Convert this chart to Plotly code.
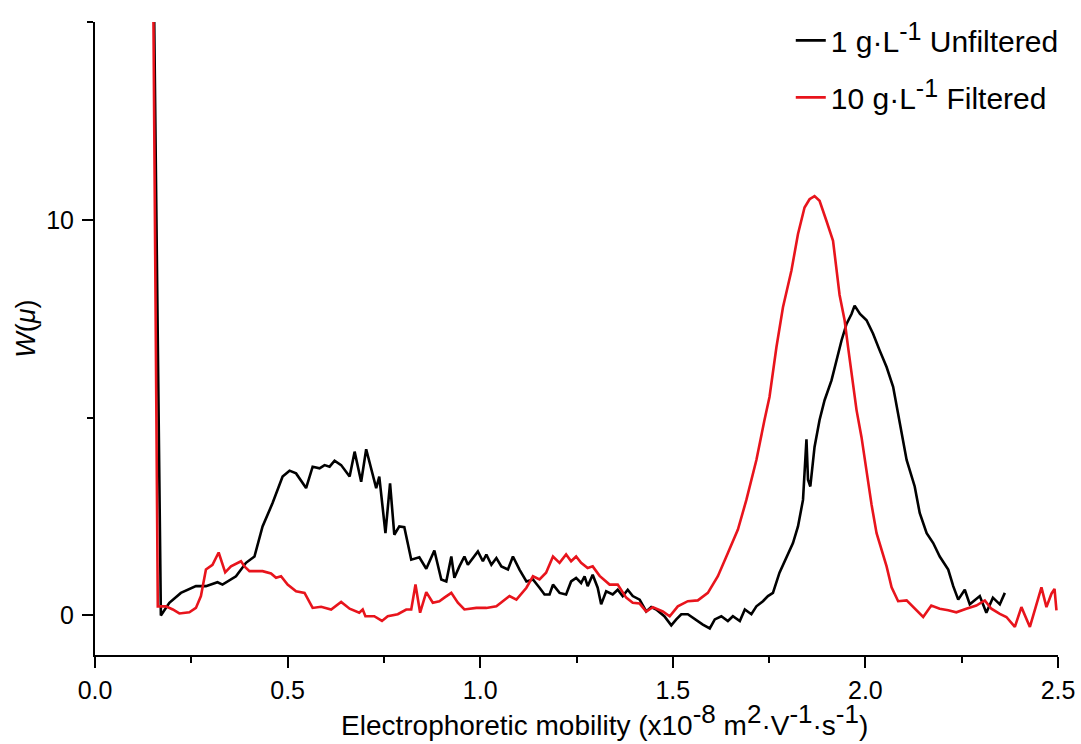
import plotly.graph_objects as go

# ---- data ----
black_x = [0.148, 0.171, 0.193, 0.223, 0.262, 0.288, 0.318, 0.331, 0.366, 0.392,
           0.414, 0.435, 0.461, 0.487, 0.505, 0.522, 0.548, 0.565, 0.583, 0.596,
           0.609, 0.622, 0.639, 0.661, 0.674, 0.691, 0.704, 0.717, 0.730, 0.738,
           0.754, 0.766, 0.777, 0.790, 0.803, 0.821, 0.842, 0.860, 0.881, 0.899,
           0.912, 0.925, 0.933, 0.946, 0.959, 0.968, 0.981, 0.994, 1.007, 1.016,
           1.029, 1.042, 1.055, 1.072, 1.085, 1.102, 1.120, 1.137, 1.154, 1.167,
           1.180, 1.189, 1.206, 1.223, 1.236, 1.249, 1.262, 1.271, 1.279, 1.292,
           1.305, 1.314, 1.327, 1.344, 1.357, 1.370, 1.383, 1.396, 1.414, 1.431,
           1.444, 1.457, 1.478, 1.496, 1.509, 1.522, 1.539, 1.557, 1.578, 1.596,
           1.609, 1.626, 1.643, 1.656, 1.674, 1.687, 1.704, 1.717, 1.734, 1.747,
           1.760, 1.777, 1.795, 1.812, 1.825, 1.838, 1.847, 1.851, 1.857, 1.868,
           1.881, 1.894, 1.912, 1.925, 1.938, 1.951, 1.964, 1.972, 1.986, 2.003,
           2.020, 2.037, 2.055, 2.072, 2.085, 2.107, 2.128, 2.141, 2.159, 2.176,
           2.193, 2.215, 2.228, 2.241, 2.258, 2.271, 2.297, 2.314, 2.331, 2.349,
           2.362]
black_y = [20.0, 0.00, 0.32, 0.57, 0.74, 0.74, 0.84, 0.78, 0.99, 1.33,
           1.49, 2.25, 2.84, 3.51, 3.66, 3.59, 3.22, 3.76, 3.72, 3.80,
           3.76, 3.91, 3.80, 3.51, 4.14, 3.38, 4.20, 3.68, 3.22, 3.51,
           2.08, 3.34, 2.04, 2.25, 2.23, 1.41, 1.47, 1.18, 1.64, 0.91,
           0.86, 1.49, 0.95, 1.24, 1.49, 1.28, 1.45, 1.62, 1.37, 1.54,
           1.28, 1.45, 1.24, 1.16, 1.49, 1.16, 0.86, 0.91, 0.70, 0.53,
           0.53, 0.78, 0.57, 0.53, 0.86, 0.95, 0.82, 0.99, 0.74, 1.03,
           0.70, 0.28, 0.61, 0.53, 0.65, 0.49, 0.65, 0.49, 0.40, 0.10,
           0.21, 0.15, -0.02, -0.25, -0.10, 0.03, 0.03, -0.10, -0.23, -0.33,
           -0.10, -0.02, -0.14, -0.02, -0.14, 0.15, 0.03, 0.23, 0.36, 0.49,
           0.57, 1.08, 1.49, 1.83, 2.25, 2.92, 4.45, 3.43, 3.26, 4.26,
           4.94, 5.44, 5.94, 6.45, 6.95, 7.37, 7.62, 7.83, 7.62, 7.46,
           7.12, 6.70, 6.28, 5.78, 5.11, 3.93, 3.26, 2.59, 2.08, 1.83,
           1.49, 1.16, 0.74, 0.40, 0.65, 0.28, 0.49, 0.07, 0.45, 0.28,
           0.57]

red_x = [0.148, 0.163, 0.184, 0.202, 0.219, 0.245, 0.262, 0.275, 0.288, 0.305,
         0.321, 0.327, 0.338, 0.353, 0.379, 0.388, 0.401, 0.435, 0.457, 0.470,
         0.483, 0.500, 0.522, 0.544, 0.565, 0.587, 0.613, 0.639, 0.661, 0.686,
         0.695, 0.702, 0.725, 0.745, 0.760, 0.786, 0.808, 0.821, 0.832, 0.844,
         0.860, 0.877, 0.894, 0.907, 0.925, 0.942, 0.959, 0.990, 1.016, 1.042,
         1.076, 1.094, 1.120, 1.137, 1.154, 1.171, 1.189, 1.206, 1.223, 1.236,
         1.249, 1.262, 1.279, 1.292, 1.310, 1.336, 1.357, 1.379, 1.396, 1.414,
         1.431, 1.448, 1.474, 1.492, 1.513, 1.539, 1.565, 1.591, 1.617, 1.643,
         1.669, 1.691, 1.717, 1.738, 1.751, 1.769, 1.786, 1.808, 1.825, 1.842,
         1.855, 1.868, 1.881, 1.899, 1.916, 1.933, 1.946, 1.955, 1.977, 1.990,
         2.003, 2.016, 2.029, 2.055, 2.068, 2.085, 2.107, 2.128, 2.150, 2.171,
         2.193, 2.215, 2.236, 2.262, 2.288, 2.310, 2.327, 2.349, 2.366, 2.388,
         2.405, 2.427, 2.440, 2.457, 2.470, 2.483, 2.491, 2.496]
red_y = [20.0, 0.23, 0.23, 0.15, 0.05, 0.08, 0.19, 0.49, 1.16, 1.28,
         1.59, 1.41, 1.09, 1.24, 1.37, 1.24, 1.12, 1.12, 1.06, 0.95,
         0.99, 0.78, 0.61, 0.57, 0.19, 0.22, 0.15, 0.34, 0.17, 0.07,
         0.15, -0.02, -0.02, -0.14, -0.02, 0.03, 0.15, 0.15, 0.78, 0.07,
         0.59, 0.32, 0.36, 0.45, 0.57, 0.32, 0.15, 0.19, 0.19, 0.23,
         0.49, 0.40, 0.70, 0.99, 0.91, 1.08, 1.49, 1.33, 1.54, 1.37,
         1.49, 1.33, 1.20, 1.24, 1.00, 0.78, 0.78, 0.45, 0.32, 0.30,
         0.10, 0.21, 0.10, -0.02, 0.23, 0.36, 0.38, 0.57, 0.99, 1.58,
         2.17, 2.92, 3.93, 4.94, 5.52, 6.78, 7.79, 8.72, 9.64, 10.31,
         10.52, 10.60, 10.48, 9.97, 9.47, 8.10, 7.46, 6.78, 5.19, 4.50,
         3.60, 2.80, 2.08, 1.24, 0.71, 0.36, 0.38, 0.17, -0.04, 0.25,
         0.17, 0.13, 0.08, 0.17, 0.25, 0.38, 0.17, 0.04, -0.04, -0.29,
         0.21, -0.29, 0.13, 0.71, 0.21, 0.55, 0.67, 0.13]


def sup(t, px):
    return "<sup><span style='font-size:%dpx'>%s</span></sup>" % (px, t)


series_names = ["1 g·L" + sup("-1", 25) + " Unfiltered", "10 g·L" + sup("-1", 25) + " Filtered"]
series_colors = ["#000000", "#e8141c"]
x_tick_vals = [0.0, 0.5, 1.0, 1.5, 2.0, 2.5]
x_tick_text = ["0.0", "0.5", "1.0", "1.5", "2.0", "2.5"]
y_tick_vals = [0, 10]
y_tick_text = ["0", "10"]
x_title = ("Electrophoretic mobility (x10" + sup("-8", 26) + " m" + sup("2", 26) +
           "·V" + sup("-1", 26) + "·s" + sup("-1", 26) + ")")
y_title = "<i>W</i>(<i>μ</i>)"

FONT = "Liberation Sans, Arial, sans-serif"

fig = go.Figure()
for xs, ys, name, col, grp in [(black_x, black_y, series_names[0], series_colors[0], "a"),
                               (red_x, red_y, series_names[1], series_colors[1], "b")]:
    fig.add_trace(go.Scatter(x=xs, y=ys, mode="lines", name=name, legendgroup=grp,
                             line=dict(color=col, width=2.6)))

fig.update_layout(
    width=1081, height=744,
    margin=dict(l=95, r=23, t=22, b=89),
    paper_bgcolor="white", plot_bgcolor="white",
    font=dict(family=FONT, size=22, color="black"),
    showlegend=True,
    legend=dict(x=1.006, xanchor="right", y=1.012, yanchor="top",
                bgcolor="rgba(0,0,0,0)", tracegroupgap=15,
                font=dict(family=FONT, size=30)),
    annotations=[
        dict(text=y_title, xref="paper", yref="paper",
             x=-0.072, y=0.515, xanchor="center", yanchor="middle",
             textangle=-90, showarrow=False, font=dict(size=27)),
        dict(text=x_title, xref="paper", yref="paper",
             x=0.5286, y=-0.103, xanchor="center", yanchor="middle",
             showarrow=False, font=dict(size=28)),
    ],
)
fig.update_xaxes(
    range=[0, 2.5], tickvals=x_tick_vals, ticktext=x_tick_text,
    showline=True, linecolor="black", linewidth=2, mirror=False,
    ticks="outside", ticklen=11, tickwidth=2, tickcolor="black",
    minor=dict(dtick=0.25, tick0=0, ticks="outside", ticklen=6, tickwidth=2, tickcolor="black"),
    showgrid=False, zeroline=False, automargin=False, ticklabelstandoff=1,
    tickfont=dict(size=25),
)
fig.update_yaxes(
    range=[-1, 15], tickvals=y_tick_vals, ticktext=y_tick_text,
    showline=True, linecolor="black", linewidth=2, mirror=False,
    ticks="outside", ticklen=11, tickwidth=2, tickcolor="black",
    minor=dict(dtick=5, tick0=0, ticks="outside", ticklen=6, tickwidth=2, tickcolor="black"),
    showgrid=False, zeroline=False, automargin=False, ticklabelstandoff=3,
    tickfont=dict(size=25),
)

fig.write_html("out.html", config={"displayModeBar": False},
               post_script="document.body.style.margin='0';")
